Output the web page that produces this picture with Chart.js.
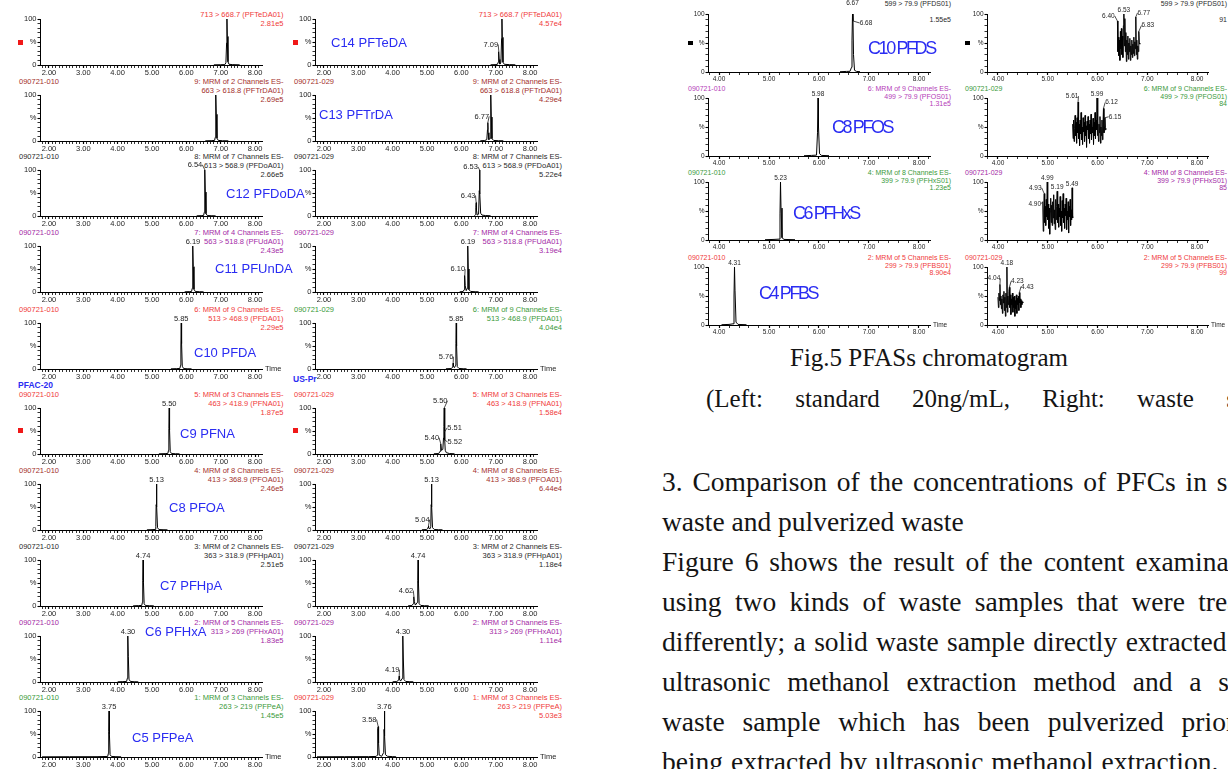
<!DOCTYPE html>
<html lang="en">
<head>
<meta charset="utf-8">
<title>Fig.5 PFASs chromatogram</title>
<script src="https://cdn.jsdelivr.net/npm/chart.js@4.4.1/dist/chart.umd.min.js"></script>
<style>
  html, body { margin: 0; padding: 0; background: #fff; }
  body { position: relative; width: 1228px; height: 769px; overflow: hidden;
         font-family: "Liberation Sans", Arial, Helvetica, sans-serif; }
  .lbl { position: absolute; white-space: nowrap; line-height: 1; }
  .panel { position: absolute; }
  .panel canvas { display: block; }
  .mark { position: absolute; }
  .serif { position: absolute; white-space: nowrap; line-height: 1; color: #141414;
           font-family: "Liberation Serif", "Times New Roman", serif; font-size: 25px; }
  .serif.body { font-size: 27.5px; }
</style>
</head>
<body>
<script>
// ---------- retention time (min) / relative intensity (%) traces ----------
// Carboxylic acids, standard 20 ng/mL (090721-010)
const std_PFTeDA = [[6.80,0.4],[7.00,0.6],[7.12,0.9],[7.15,5],[7.17,48],[7.18,100],[7.19,62],[7.21,7],[7.24,1.5],[7.35,0.8],[7.55,0.4]];
const std_PFTrDA = [[6.55,0.4],[6.72,0.7],[6.82,1.2],[6.84,8],[6.85,52],[6.86,100],[6.87,58],[6.89,6],[6.93,1.2],[7.05,0.6],[7.22,0.4]];
const std_PFDoDA = [[6.30,0.4],[6.45,0.8],[6.50,1.2],[6.52,8],[6.53,55],[6.54,100],[6.55,52],[6.57,5],[6.61,1],[6.72,0.6],[6.85,0.4]];
const std_PFUnDA = [[5.95,0.4],[6.10,0.8],[6.15,1.2],[6.17,8],[6.18,52],[6.19,100],[6.20,55],[6.22,6],[6.26,1],[6.38,0.6],[6.50,0.4]];
const std_PFDA   = [[5.55,0.4],[5.72,0.8],[5.81,1.2],[5.83,8],[5.84,50],[5.85,100],[5.86,55],[5.88,6],[5.92,1],[6.02,0.6],[6.15,0.4]];
const std_PFNA   = [[5.20,0.4],[5.38,0.8],[5.46,1.2],[5.48,8],[5.49,55],[5.50,100],[5.51,52],[5.53,5],[5.57,1],[5.68,0.6],[5.80,0.4]];
const std_PFOA   = [[4.85,0.4],[5.00,0.8],[5.09,1.2],[5.11,8],[5.12,55],[5.13,100],[5.14,50],[5.16,5],[5.20,1],[5.32,0.6],[5.45,0.4]];
const std_PFHpA  = [[4.45,0.4],[4.60,0.8],[4.70,1.2],[4.72,8],[4.73,55],[4.74,100],[4.75,52],[4.77,5],[4.81,1],[4.92,0.6],[5.05,0.4]];
const std_PFHxA  = [[4.00,0.4],[4.15,0.8],[4.26,1.2],[4.28,8],[4.29,52],[4.30,100],[4.31,55],[4.33,6],[4.37,1.2],[4.48,0.6],[4.60,0.4]];
const std_PFPeA  = [[1.80,0.4],[2.60,0.6],[3.40,0.7],[3.71,1.2],[3.73,8],[3.74,55],[3.75,100],[3.76,50],[3.78,5],[3.82,1.2],[3.95,0.7],[4.10,0.4]];

// Carboxylic acids, waste extract (090721-029)
const smp_PFTeDA = [[6.85,0.5],[6.98,0.8],[7.05,1.5],[7.07,6],[7.08,20],[7.09,29],[7.10,12],[7.12,2],[7.15,6],[7.17,58],[7.18,100],[7.19,60],[7.21,6],[7.25,1.5],[7.40,0.8],[7.57,0.5]];
const smp_PFTrDA = [[6.55,0.5],[6.68,1],[6.74,3],[6.76,25],[6.77,40],[6.78,18],[6.80,3],[6.84,6],[6.85,55],[6.86,100],[6.87,52],[6.89,5],[6.94,1.2],[7.08,0.6],[7.22,0.5]];
const smp_PFDoDA = [[6.38,0.5],[6.41,3],[6.42,18],[6.43,29],[6.44,12],[6.46,2],[6.50,4],[6.52,55],[6.53,100],[6.54,48],[6.56,6],[6.60,2],[6.70,1],[6.85,0.5]];
const smp_PFUnDA = [[5.95,0.5],[6.05,1],[6.08,5],[6.09,22],[6.10,36],[6.11,14],[6.14,3],[6.17,8],[6.18,58],[6.19,100],[6.20,50],[6.22,5],[6.27,1.2],[6.40,0.6],[6.50,0.5]];
const smp_PFDA   = [[5.55,0.5],[5.70,1],[5.74,3],[5.75,8],[5.76,13],[5.77,6],[5.80,3],[5.83,8],[5.84,55],[5.85,100],[5.86,50],[5.88,5],[5.93,1.2],[6.05,0.6],[6.15,0.5]];
const smp_PFNA   = [[5.20,0.5],[5.34,1],[5.38,6],[5.40,22],[5.42,8],[5.46,10],[5.48,35],[5.49,60],[5.50,100],[5.51,48],[5.52,30],[5.53,8],[5.56,3],[5.65,1],[5.80,0.5]];
const smp_PFOA   = [[4.85,0.5],[4.98,1],[5.02,3],[5.03,6],[5.04,9],[5.05,5],[5.08,2],[5.11,8],[5.12,55],[5.13,100],[5.14,50],[5.16,5],[5.21,1.2],[5.33,0.6],[5.45,0.5]];
const smp_PFHpA  = [[4.45,0.5],[4.56,1],[4.60,5],[4.61,14],[4.62,20],[4.63,10],[4.66,2],[4.72,8],[4.73,55],[4.74,100],[4.75,50],[4.77,5],[4.82,1.2],[4.93,0.6],[5.05,0.5]];
const smp_PFHxA  = [[4.00,0.5],[4.12,1],[4.17,4],[4.18,9],[4.19,13],[4.20,6],[4.23,2],[4.28,8],[4.29,55],[4.30,100],[4.31,50],[4.33,5],[4.38,1.2],[4.50,0.6],[4.60,0.5]];
const smp_PFPeA  = [[1.80,0.5],[2.60,0.7],[3.30,0.8],[3.52,1.2],[3.55,4],[3.56,30],[3.57,62],[3.58,66],[3.59,30],[3.61,4],[3.68,1.5],[3.74,10],[3.75,60],[3.76,100],[3.77,45],[3.79,5],[3.85,1.5],[4.00,0.8],[4.10,0.5]];

// Sulfonic acids, standard
const std_PFDS  = [[6.42,0.5],[6.55,1],[6.62,1.2],[6.65,8],[6.66,55],[6.67,100],[6.68,88],[6.69,30],[6.71,3],[6.75,1],[6.82,0.5]];
const std_PFOS  = [[5.70,0.5],[5.85,1],[5.95,1.5],[5.97,40],[5.98,100],[5.99,50],[6.01,4],[6.05,1],[6.20,0.5]];
const std_PFHxS = [[4.92,0.5],[5.10,1],[5.20,1.5],[5.22,45],[5.23,100],[5.24,55],[5.26,4],[5.30,1],[5.52,0.5]];
const std_PFBS  = [[4.05,0.5],[4.20,1],[4.28,2],[4.30,50],[4.31,100],[4.32,60],[4.34,5],[4.38,1],[4.55,0.5]];

// Sulfonic acids, waste extract (noise-level signal)
const smp_PFDS = [[6.40,88],[6.41,35],[6.42,60],[6.43,28],[6.44,55],[6.45,20],[6.46,70],[6.47,40],[6.48,75],[6.49,30],[6.50,62],[6.51,25],[6.52,80],[6.53,100],[6.54,45],[6.55,92],[6.56,35],[6.57,68],[6.58,18],[6.59,55],[6.60,30],[6.61,62],[6.62,22],[6.63,50],[6.64,35],[6.65,58],[6.66,20],[6.67,45],[6.68,30],[6.69,55],[6.70,25],[6.71,48],[6.72,32],[6.73,60],[6.74,28],[6.75,52],[6.76,40],[6.77,95],[6.78,30],[6.79,55],[6.80,22],[6.81,45],[6.82,35],[6.83,70],[6.84,50],[6.85,48]];
const smp_PFOS = [[5.50,55],[5.51,30],[5.52,62],[5.53,25],[5.54,48],[5.55,70],[5.56,35],[5.57,58],[5.58,22],[5.59,66],[5.60,40],[5.61,93],[5.62,30],[5.63,55],[5.64,18],[5.65,62],[5.66,38],[5.67,75],[5.68,28],[5.69,50],[5.70,20],[5.71,66],[5.72,42],[5.73,58],[5.74,25],[5.75,70],[5.76,35],[5.77,52],[5.78,15],[5.79,60],[5.80,45],[5.81,68],[5.82,30],[5.83,55],[5.84,22],[5.85,62],[5.86,38],[5.87,72],[5.88,28],[5.89,50],[5.90,40],[5.91,65],[5.92,20],[5.93,58],[5.94,35],[5.95,75],[5.96,30],[5.97,62],[5.98,45],[5.99,100],[6.00,35],[6.01,60],[6.02,25],[6.03,55],[6.04,40],[6.05,68],[6.06,22],[6.07,50],[6.08,35],[6.09,62],[6.10,28],[6.11,55],[6.12,82],[6.13,40],[6.14,50],[6.15,66],[6.16,45],[6.17,48]];
const smp_PFHxS = [[4.90,66],[4.91,15],[4.92,50],[4.93,80],[4.94,30],[4.95,58],[4.96,25],[4.97,70],[4.98,40],[4.99,100],[5.00,35],[5.01,62],[5.02,20],[5.03,55],[5.04,10],[5.05,48],[5.06,72],[5.07,30],[5.08,60],[5.09,25],[5.10,66],[5.11,38],[5.12,78],[5.13,28],[5.14,52],[5.15,18],[5.16,70],[5.17,35],[5.18,58],[5.19,84],[5.20,30],[5.21,62],[5.22,22],[5.23,55],[5.24,40],[5.25,75],[5.26,25],[5.27,50],[5.28,15],[5.29,68],[5.30,38],[5.31,80],[5.32,30],[5.33,55],[5.34,20],[5.35,62],[5.36,42],[5.37,72],[5.38,18],[5.39,50],[5.40,35],[5.41,66],[5.42,12],[5.43,58],[5.44,40],[5.45,70],[5.46,25],[5.47,52],[5.48,35],[5.49,90],[5.50,38],[5.51,40]];
const smp_PFBS = [[4.00,48],[4.01,30],[4.02,55],[4.03,42],[4.04,70],[4.05,35],[4.06,50],[4.07,28],[4.08,45],[4.09,20],[4.10,52],[4.11,38],[4.12,58],[4.13,25],[4.14,48],[4.15,15],[4.16,55],[4.17,30],[4.18,100],[4.19,22],[4.20,50],[4.21,35],[4.22,58],[4.23,65],[4.24,30],[4.25,52],[4.26,18],[4.27,45],[4.28,35],[4.29,55],[4.30,22],[4.31,48],[4.32,30],[4.33,50],[4.34,15],[4.35,42],[4.36,28],[4.37,52],[4.38,20],[4.39,46],[4.40,35],[4.41,50],[4.42,25],[4.43,56],[4.44,38],[4.45,45],[4.46,30],[4.47,42],[4.48,35],[4.49,40],[4.50,38]];

// ---------- labelled retention times per trace ----------
const std_carbox_rt = [[], [], [6.54], [6.19], [5.85], [5.50], [5.13], [4.74], [4.30], [3.75]];
const smp_carbox_rt = [[7.09], [6.77], [6.53, 6.43], [6.19, 6.10], [5.85, 5.76], [5.50, 5.40, 5.51, 5.52], [5.13, 5.04], [4.74, 4.62], [4.30, 4.19], [3.76, 3.58]];
const std_sulfo_rt = [[6.67, 6.68], [5.98], [5.23], [4.31]];
const smp_sulfo_rt = [[6.40, 6.53, 6.77, 6.83], [5.61, 5.99, 6.12, 6.15], [4.93, 4.99, 4.90, 5.19, 5.49], [4.04, 4.18, 4.23, 4.43]];

// ---------- channel annotations ----------
const carboxNames = ['C14 PFTeDA','C13 PFTrDA','C12 PFDoDA','C11 PFUnDA','C10 PFDA','C9 PFNA','C8 PFOA','C7 PFHpA','C6 PFHxA','C5 PFPeA'];
const carboxTransitions = ['713 > 668.7 (PFTeDA01)','663 > 618.8 (PFTrDA01)','613 > 568.9 (PFDoA01)','563 > 518.8 (PFUdA01)','513 > 468.9 (PFDA01)','463 > 418.9 (PFNA01)','413 > 368.9 (PFOA01)','363 > 318.9 (PFHpA01)','313 > 269 (PFHxA01)','263 > 219 (PFPeA)'];
const carboxFunctions = [null,'9: MRM of 2 Channels ES-','8: MRM of 7 Channels ES-','7: MRM of 4 Channels ES-','6: MRM of 9 Channels ES-','5: MRM of 3 Channels ES-','4: MRM of 8 Channels ES-','3: MRM of 2 Channels ES-','2: MRM of 5 Channels ES-','1: MRM of 3 Channels ES-'];
const carboxStdMax = ['2.81e5','2.69e5','2.66e5','2.43e5','2.29e5','1.87e5','2.46e5','2.51e5','1.83e5','1.45e5'];
const carboxSmpMax = ['4.57e4','4.29e4','5.22e4','3.19e4','4.04e4','1.58e4','6.44e4','1.18e4','1.11e4','5.03e3'];

const sulfoNames = ['C10 PFDS','C8 PFOS','C6 PFHxS','C4 PFBS'];
const sulfoTransitions = ['599 > 79.9 (PFDS01)','499 > 79.9 (PFOS01)','399 > 79.9 (PFHxS01)','299 > 79.9 (PFBS01)'];
const sulfoFunctions = [null,'6: MRM of 9 Channels ES-','4: MRM of 8 Channels ES-','2: MRM of 5 Channels ES-'];
const sulfoStdMax = ['1.55e5','1.31e5','1.23e5','8.90e4'];
const sulfoSmpMax = ['91','84','85','99'];

const sampleIds = ['090721-010', '090721-029'];
const xMajorCarbox = [2, 3, 4, 5, 6, 7, 8];
const xMajorSulfo = [4, 5, 6, 7, 8];

const captionLines = ['Fig.5 PFASs chromatogram', '(Left: standard 20ng/mL, Right: waste sample)'];
const sectionLines = [
  '3. Comparison of the concentrations of PFCs in solid',
  'waste and pulverized waste',
  'Figure 6 shows the result of the content examination',
  'using two kinds of waste samples that were treated',
  'differently; a solid waste sample directly extracted by',
  'ultrasonic methanol extraction method and a solid',
  'waste sample which has been pulverized prior to',
  'being extracted by ultrasonic methanol extraction.'
];

// ---------- styling / layout ----------
const FONT = '"Liberation Sans", Arial, Helvetica, sans-serif';
const INK = '#1e1e1e';
const HUE = { red: '#f03a3a', darkred: '#a3302c', black: '#2a2a2a', purple: '#a42aa6', green: '#3a9a3a', magenta: '#b43cb8', blue: '#2a2cf2' };

const carboxBlock = {
  xmin: 1.74, xmax: 8.20, step: 0.1, plotH: 46, yw: 24, xh: 12, font: 7.5, tagFont: 7.5, hdrFont: 7.5,
  hdrOffsets: [-13.5, -4.5, 4.5], firstRowOffsets: [-4.5, 4.5], majors: xMajorCarbox,
  rows: [19, 95, 170, 246, 323, 408, 484, 560, 636, 711],
  cols: [
    { ax: 40, ax2: 262, idX: 19, rX: 283.5 },
    { ax: 315, ax2: 537, idX: 294, rX: 562 }
  ]
};
const sulfoBlock = {
  xmin: 3.78, xmax: 8.22, step: 0.2, plotH: 58, yw: 22, xh: 11, font: 6.5, tagFont: 6.5, hdrFont: 7,
  hdrOffsets: [-10, -2.5, 5], firstRowOffsets: [-11, 4.5], majors: xMajorSulfo,
  rows: [14, 98, 182, 267],
  cols: [
    { ax: 708, ax2: 930, idX: 688, rX: 951 },
    { ax: 987, ax2: 1208, idX: 965, rX: 1227 }
  ]
};

const carboxColors = [
  ['red','darkred','black','purple','red','red','darkred','black','purple','green'],
  ['red','darkred','black','purple','green','red','darkred','black','purple','red']
];
const sulfoColors = [
  ['black','magenta','green','red'],
  ['black','green','purple','red']
];

// tag placements (dx, dy in px) relative to the labelled apex
const stdCarboxTagShift = [[], [], [[-10,-1]], [[0,0]], [[0,0]], [[0,0]], [[0,0]], [[0,0]], [[0,0]], [[0,0]]];
const smpCarboxTagShift = [[[-8,-3]], [[-6,-2]], [[-9,1],[-8,-3]], [[0,0],[-7,-2]], [[0,0],[-7,-2]], [[-4,-3],[-9,-2],[10,0],[10,6]], [[0,0],[-6,-2]], [[0,0],[-8,-2]], [[0,0],[-7,-2]], [[0,0],[-9,-3]]];
const stdSulfoTagShift = [[[0,-7],[13,6]], [[0,0]], [[0,0]], [[0,0]]];
const smpSulfoTagShift = [[[-9,-1],[0,0],[8,0],[9,-2]], [[-6,-2],[0,0],[8,-2],[10,3]], [[-9,-2],[0,0],[-8,6],[0,0],[0,0]], [[-6,-2],[0,0],[8,-2],[8,-2]]];

const carboxNamePos = [[331,42],[319,114],[226,193],[215,268],[194,352],[180,433],[169,507],[160,585],[145,631],[132,737]];
const sulfoNamePos = [[868,48],[832,127],[793,213],[759,293]];

const captionLayout = [{ x: 790, y: 357, ws: 0 }, { x: 706, y: 398, ws: 26 }];
const sectionTop = 482, sectionStep = 40, sectionX = 662;
const sectionWordSpacing = [3, 0, 4, 6.5, 1.5, 10, 11, 1];

// ---------- plugin: retention-time tags ----------
const rtTags = {
  id: 'rtTags',
  afterDatasetsDraw(chart, _args, opts) {
    const items = opts.items || [];
    if (!items.length) return;
    const { ctx } = chart;
    const xs = chart.scales.x, ys = chart.scales.y;
    const pts = chart.data.datasets[0].data;
    ctx.save();
    ctx.font = `${opts.size}px ${FONT}`;
    ctx.fillStyle = INK; ctx.strokeStyle = INK; ctx.lineWidth = 0.8;
    ctx.textAlign = 'center'; ctx.textBaseline = 'alphabetic';
    items.forEach(({ t, dx, dy }) => {
      const p = pts.find(q => Math.abs(q.x - t) < 1e-6);
      if (!p) return;
      const px = xs.getPixelForValue(p.x), py = ys.getPixelForValue(p.y);
      const label = p.x.toFixed(2);
      const w = ctx.measureText(label).width;
      const tx = px + dx, ty = py - 2 + dy;
      ctx.fillText(label, tx, ty);
      if (dx) {
        const sx = dx < 0 ? tx + w / 2 : tx - w / 2;
        ctx.beginPath(); ctx.moveTo(sx, ty - opts.size * 0.3); ctx.lineTo(px, py); ctx.stroke();
      }
    });
    ctx.restore();
  }
};
Chart.register(rtTags);

function addText(x, y, s, o = {}) {
  const d = document.createElement('div');
  d.className = 'lbl';
  d.textContent = s;
  const tx = o.align === 'right' ? '-100%' : o.align === 'center' ? '-50%' : '0';
  d.style.cssText = `left:${x}px;top:${y}px;transform:translate(${tx},-50%);font-size:${o.size || 8}px;color:${o.color || INK};` + (o.css || '');
  document.body.appendChild(d);
  return d;
}

function addMark(x, y, w, h, color) {
  const d = document.createElement('div');
  d.className = 'mark';
  d.style.cssText = `left:${x}px;top:${y}px;width:${w}px;height:${h}px;background:${color};`;
  document.body.appendChild(d);
}

function isMajor(v, majors) { return majors.some(m => Math.abs(v - m) < 1e-6); }

function buildChart(B, col, row, trace, rts, shifts) {
  const c = B.cols[col];
  const y100 = B.rows[row];
  const PT = 16, PR = 6;
  const box = document.createElement('div');
  box.className = 'panel';
  const w = c.ax2 - c.ax + B.yw + PR, h = B.plotH + PT + B.xh;
  box.style.cssText = `left:${c.ax - B.yw}px;top:${y100 - PT}px;width:${w}px;height:${h}px;`;
  const cv = document.createElement('canvas');
  box.appendChild(cv);
  document.body.appendChild(box);

  const tickFont = { family: FONT, size: B.font };
  new Chart(cv, {
    type: 'line',
    data: { datasets: [{
      data: trace.map(([x, y]) => ({ x, y })),
      borderColor: '#000', borderWidth: 1, pointRadius: 0, tension: 0, fill: false
    }] },
    options: {
      responsive: true, maintainAspectRatio: false, animation: false, events: [],
      layout: { autoPadding: false, padding: { top: PT, right: PR, left: 0, bottom: 0 } },
      plugins: {
        legend: { display: false }, tooltip: { enabled: false },
        rtTags: { size: B.tagFont, items: rts.map((t, i) => ({ t, dx: (shifts[i] || [0, 0])[0], dy: (shifts[i] || [0, 0])[1] })) }
      },
      scales: {
        x: {
          type: 'linear', min: B.xmin, max: B.xmax,
          afterFit(s) { s.height = B.xh; },
          ticks: {
            stepSize: B.step, autoSkip: false, maxRotation: 0, minRotation: 0, includeBounds: false,
            padding: 0, color: INK, font: tickFont,
            callback: v => isMajor(v, B.majors) ? v.toFixed(2) : ''
          },
          grid: {
            drawOnChartArea: false, drawTicks: true, tickLength: 3, tickColor: '#000',
            tickWidth: ctx => isMajor(ctx.tick.value, B.majors) ? 1.2 : 0.8
          },
          border: { display: true, color: '#000', width: 1 }
        },
        y: {
          min: 0, max: 100,
          afterFit(s) { s.width = B.yw; },
          ticks: {
            stepSize: 10, autoSkip: false, padding: 1, color: INK, font: tickFont,
            callback: v => v === 100 ? '100' : v === 50 ? '%' : v === 0 ? '0' : ''
          },
          grid: {
            drawOnChartArea: false, drawTicks: true, tickLength: 2.5, tickColor: '#000',
            tickWidth: ctx => (ctx.tick.value % 50 === 0) ? 1.1 : 0.8
          },
          border: { display: true, color: '#000', width: 1 }
        }
      }
    }
  });
}

function headers(B, col, row, fn, transition, maxv, color) {
  const c = B.cols[col];
  const y100 = B.rows[row];
  const o = { size: B.hdrFont, color };
  const right = Object.assign({ align: 'right' }, o);
  if (fn) {
    addText(c.idX, y100 + B.hdrOffsets[0], sampleIds[col], o);
    addText(c.rX, y100 + B.hdrOffsets[0], fn, right);
    addText(c.rX, y100 + B.hdrOffsets[1], transition, right);
    addText(c.rX, y100 + B.hdrOffsets[2], maxv, right);
  } else {
    addText(c.rX, y100 + B.firstRowOffsets[0], transition, right);
    addText(c.rX, y100 + B.firstRowOffsets[1], maxv, right);
  }
}

// ---------- carboxylic acid block ----------
const stdCarbox = [std_PFTeDA, std_PFTrDA, std_PFDoDA, std_PFUnDA, std_PFDA, std_PFNA, std_PFOA, std_PFHpA, std_PFHxA, std_PFPeA];
const smpCarbox = [smp_PFTeDA, smp_PFTrDA, smp_PFDoDA, smp_PFUnDA, smp_PFDA, smp_PFNA, smp_PFOA, smp_PFHpA, smp_PFHxA, smp_PFPeA];

carboxNames.forEach((name, r) => {
  headers(carboxBlock, 0, r, carboxFunctions[r], carboxTransitions[r], carboxStdMax[r], HUE[carboxColors[0][r]]);
  headers(carboxBlock, 1, r, carboxFunctions[r], carboxTransitions[r], carboxSmpMax[r], HUE[carboxColors[1][r]]);
});
addText(18, 385, 'PFAC-20', { size: 8.5, color: HUE.blue, css: 'font-weight:bold;' });
addText(293, 379, 'US-Pr', { size: 8.5, color: HUE.blue, css: 'font-weight:bold;' });

carboxNames.forEach((name, r) => {
  buildChart(carboxBlock, 0, r, stdCarbox[r], std_carbox_rt[r], stdCarboxTagShift[r]);
  buildChart(carboxBlock, 1, r, smpCarbox[r], smp_carbox_rt[r], smpCarboxTagShift[r]);
});

carboxNames.forEach((name, r) => {
  const [x, y] = carboxNamePos[r];
  addText(x, y, name, { size: 13, color: HUE.blue });
});

[[18, 40], [293, 40], [18, 428], [293, 428]].forEach(([x, y]) => addMark(x, y, 5, 5, '#f01818'));
[4, 9].forEach(r => {
  carboxBlock.cols.forEach(c => addText(c.ax2 + 3, carboxBlock.rows[r] + carboxBlock.plotH, 'Time', { size: 7.5 }));
});

// ---------- sulfonic acid block ----------
const stdSulfo = [std_PFDS, std_PFOS, std_PFHxS, std_PFBS];
const smpSulfo = [smp_PFDS, smp_PFOS, smp_PFHxS, smp_PFBS];

sulfoNames.forEach((name, r) => {
  headers(sulfoBlock, 0, r, sulfoFunctions[r], sulfoTransitions[r], sulfoStdMax[r], HUE[sulfoColors[0][r]]);
  headers(sulfoBlock, 1, r, sulfoFunctions[r], sulfoTransitions[r], sulfoSmpMax[r], HUE[sulfoColors[1][r]]);
});
sulfoNames.forEach((name, r) => {
  buildChart(sulfoBlock, 0, r, stdSulfo[r], std_sulfo_rt[r], stdSulfoTagShift[r]);
  buildChart(sulfoBlock, 1, r, smpSulfo[r], smp_sulfo_rt[r], smpSulfoTagShift[r]);
});
sulfoNames.forEach((name, r) => {
  const [x, y] = sulfoNamePos[r];
  addText(x, y, name, { size: 18, color: HUE.blue, css: 'letter-spacing:-2.4px;' });
});
[[688, 41], [965, 41]].forEach(([x, y]) => addMark(x, y, 5, 4, '#000'));
sulfoBlock.cols.forEach(c => addText(c.ax2 + 3, sulfoBlock.rows[3] + sulfoBlock.plotH, 'Time', { size: 6.5 }));

// ---------- caption and running text ----------
captionLines.forEach((s, i) => {
  const L = captionLayout[i];
  const d = document.createElement('div');
  d.className = 'serif';
  d.textContent = s;
  d.style.cssText = `left:${L.x}px;top:${L.y}px;transform:translateY(-50%);word-spacing:${L.ws}px;`;
  document.body.appendChild(d);
});
sectionLines.forEach((s, i) => {
  const d = document.createElement('div');
  d.className = 'serif body';
  d.textContent = s;
  d.style.cssText = `left:${sectionX}px;top:${sectionTop + i * sectionStep}px;transform:translateY(-50%);word-spacing:${sectionWordSpacing[i]}px;`;
  document.body.appendChild(d);
});
</script>
</body>
</html>
